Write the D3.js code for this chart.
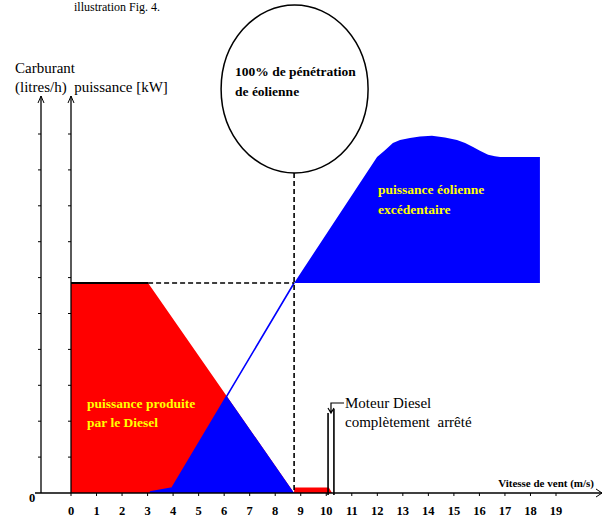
<!DOCTYPE html>
<html><head><meta charset="utf-8">
<script src="https://cdn.jsdelivr.net/npm/d3@7/dist/d3.min.js"></script>
<style>
html,body{margin:0;padding:0;background:#fff;}
</style></head>
<body>
<svg id="chart" width="607" height="518" font-family="'Liberation Serif', 'DejaVu Serif', serif"></svg>
<script>
// ---- data ----
const xTickValues = [0,1,2,3,4,5,6,7,8,9,10,11,12,13,14,15,16,17,18,19];
const xTickLabels = ["0","1","2","3","4","5","6","7","8","9","10","11","12","13","14","15","16","17","18","19"];
const yTickValues = [1,2,3,4,5,6,7,8,9,10];
// diesel power (red)
const dieselX = [0, 3.02, 8.74, 8.74, 10.1, 10.23];
const dieselY = [5.85, 5.85, 0, 0.15, 0.15, 0];
// wind power, low-speed part (blue line / blue area under diesel)
const windX = [3.09, 3.96, 8.74];
const windY = [0.03, 0.14, 5.85];
// excess wind power (blue, above diesel level)
const excessX = [8.74, 11.99, 12.30, 12.61, 12.89, 13.28, 13.67, 14.14, 14.65, 15.12, 15.44, 15.75, 16.02, 16.34, 16.61, 16.81, 18.37];
const excessY = [5.85, 9.36, 9.55, 9.75, 9.83, 9.89, 9.93, 9.95, 9.90, 9.83, 9.75, 9.64, 9.53, 9.42, 9.38, 9.36, 9.36];
const dieselLevel = 5.85;
const penetrationSpeed = 8.74;
const dieselStopSpeeds = [10.07, 10.30];

// ---- scales ----
const svg = d3.select("#chart");
const x = d3.scaleLinear().domain([0,19]).range([71,556]);
const y = d3.scaleLinear().domain([0,10]).range([493,134]);

const RED = "#ff0000", BLUE = "#0000ff", YEL = "#ffff00";

// red diesel area
const diesel = dieselX.map((d,i)=>({x:d,y:dieselY[i]}));
const dieselArea = d3.area().x(d=>x(d.x)).y0(y(0)).y1(d=>y(d.y));
svg.append("clipPath").attr("id","dclip").append("path").attr("d", dieselArea(diesel));
svg.append("path").attr("d", dieselArea(diesel)).attr("fill", RED);

// blue area under wind curve, clipped by diesel area
const wind = windX.map((d,i)=>({x:d,y:windY[i]}));
svg.append("path").attr("d", d3.area().x(d=>x(d.x)).y0(y(0)).y1(d=>y(d.y))(wind))
  .attr("fill", BLUE).attr("clip-path","url(#dclip)");
svg.append("path").attr("d", d3.line().x(d=>x(d.x)).y(d=>y(d.y))(wind))
  .attr("fill","none").attr("stroke", BLUE).attr("stroke-width",1.6);

// excess wind area
const excess = excessX.map((d,i)=>({x:d,y:excessY[i]}));
const exArea = d3.area().x(d=>x(d.x)).y0(y(dieselLevel)).y1(d=>y(d.y));
svg.append("path").attr("d", exArea(excess)).attr("fill", BLUE);

// black top of diesel plateau
svg.append("line").attr("x1",x(0)).attr("x2",x(dieselX[1])).attr("y1",y(dieselLevel)).attr("y2",y(dieselLevel))
  .attr("stroke","#000").attr("stroke-width",2);
// dashed lines
svg.append("line").attr("x1",x(dieselX[1])).attr("x2",x(penetrationSpeed)).attr("y1",y(dieselLevel)).attr("y2",y(dieselLevel))
  .attr("stroke","#000").attr("stroke-width",1.6).attr("stroke-dasharray","5,3");
// ellipse
const cx = x(penetrationSpeed)+0.5, cy = 89, rx = 73.5, ry = 84;
svg.append("line").attr("x1",x(penetrationSpeed)).attr("x2",x(penetrationSpeed)).attr("y1",cy+ry).attr("y2",y(0))
  .attr("stroke","#000").attr("stroke-width",1.6).attr("stroke-dasharray","5,3");
svg.append("ellipse").attr("cx",cx).attr("cy",cy).attr("rx",rx).attr("ry",ry)
  .attr("fill","none").attr("stroke","#000").attr("stroke-width",1.5);
svg.append("text").attr("x",235).attr("y",76).attr("font-size",13.5).attr("font-weight","bold").text("100% de pénétration");
svg.append("text").attr("x",235).attr("y",96).attr("font-size",13.5).attr("font-weight","bold").text("de éolienne");

// axes
const ax = svg.append("g").attr("stroke","#000").attr("fill","none");
ax.append("line").attr("x1",35).attr("x2",602).attr("y1",y(0)).attr("y2",y(0)).attr("stroke-width",1.3);
ax.append("path").attr("d",`M596,${y(0)-4} L602,${y(0)} L596,${y(0)+4}`).attr("stroke-width",1);
[41, x(0)].forEach(ax0=>{
  ax.append("line").attr("x1",ax0).attr("x2",ax0).attr("y1",y(0)).attr("y2",96).attr("stroke-width",1.3);
  ax.append("path").attr("d",`M${ax0-3},103 L${ax0},96 L${ax0+3},103`).attr("stroke-width",1);
  yTickValues.forEach(v=>{
    ax.append("line").attr("x1",ax0-3).attr("x2",ax0).attr("y1",y(v)).attr("y2",y(v)).attr("stroke-width",1);
  });
});
xTickValues.forEach(v=>{
  ax.append("line").attr("x1",x(v)).attr("x2",x(v)).attr("y1",y(0)).attr("y2",y(0)+3).attr("stroke-width",1);
});
svg.append("g").selectAll("text").data(xTickValues).join("text")
  .attr("x",d=>x(d)).attr("y",515).attr("text-anchor","middle")
  .attr("font-size",12.5).attr("font-weight","bold").text((d,i)=>xTickLabels[i]);
svg.append("text").attr("x",32).attr("y",502).attr("text-anchor","middle").attr("font-size",12.5).attr("font-weight","bold").text("0");
svg.append("text").attr("x",594).attr("y",487).attr("text-anchor","end").attr("font-size",11).attr("font-weight","bold").text("Vitesse de vent (m/s)");

// axis titles
svg.append("text").attr("x",15).attr("y",73).attr("font-size",15).text("Carburant");
svg.append("text").attr("x",15).attr("y",92).attr("font-size",15).attr("xml:space","preserve").text("(litres/h)  puissance [kW]");

// caption at top (cut in the source image)
svg.append("text").attr("x",160).attr("y",11).attr("text-anchor","end").attr("font-size",12).text("illustration Fig. 4.");

// yellow labels
svg.append("text").attr("x",87).attr("y",408).attr("font-size",13.5).attr("font-weight","bold").attr("fill",YEL).text("puissance produite");
svg.append("text").attr("x",87).attr("y",427).attr("font-size",13.5).attr("font-weight","bold").attr("fill",YEL).text("par le Diesel");
svg.append("text").attr("x",378).attr("y",194).attr("font-size",13.5).attr("font-weight","bold").attr("fill",YEL).text("puissance éolienne");
svg.append("text").attr("x",378).attr("y",214).attr("font-size",13.5).attr("font-weight","bold").attr("fill",YEL).text("excédentaire");

// diesel stopped annotation
const s0 = x(dieselStopSpeeds[0]), s1 = x(dieselStopSpeeds[1]);
svg.append("line").attr("x1",s0).attr("x2",s0).attr("y1",413).attr("y2",495).attr("stroke","#000").attr("stroke-width",1.6);
svg.append("line").attr("x1",s1).attr("x2",s1).attr("y1",409).attr("y2",495).attr("stroke","#000").attr("stroke-width",1.6);
svg.append("path").attr("d",`M344,403 H${(s0+s1)/2} V413 M${(s0+s1)/2-3},408 L${(s0+s1)/2},413 L${(s0+s1)/2+3},408`)
  .attr("fill","none").attr("stroke","#000").attr("stroke-width",1.2);
svg.append("text").attr("x",345).attr("y",408).attr("font-size",15).text("Moteur Diesel");
svg.append("text").attr("x",345).attr("y",427).attr("font-size",15).attr("xml:space","preserve").text("complètement  arrêté");
</script>
</body></html>
